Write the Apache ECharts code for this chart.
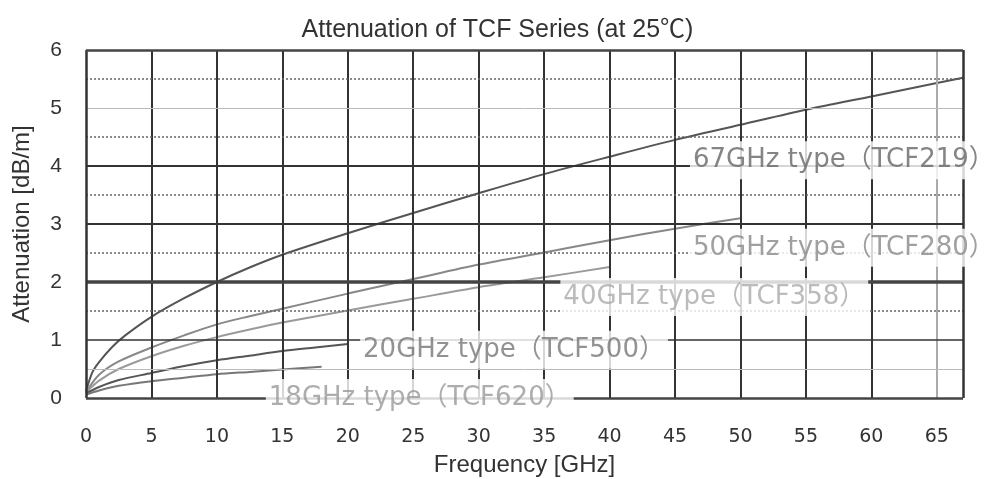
<!DOCTYPE html>
<html><head><meta charset="utf-8">
<script src="https://cdn.jsdelivr.net/npm/echarts@6/dist/echarts.min.js"></script>
<style>html,body{margin:0;padding:0;background:#fff}#c{width:995px;height:479px}</style>
</head><body><div id="c"></div>
<script>
// ---- data ----
const freq67 = [0, 0.5, 1, 2, 3, 5, 7.5, 10, 12.5, 15, 20, 25, 30, 35, 40, 45, 50, 55, 60, 65, 67];
const att67  = [0.12, 0.45, 0.62, 0.88, 1.08, 1.40, 1.72, 2.0, 2.25, 2.47, 2.84, 3.19, 3.53, 3.86, 4.16, 4.45, 4.71, 4.97, 5.2, 5.43, 5.52];
const freq50 = [0, 1, 2.5, 5, 7.5, 10, 12.5, 15, 20, 25, 30, 35, 40, 45, 50];
const att50  = [0.1, 0.4, 0.63, 0.87, 1.08, 1.27, 1.41, 1.54, 1.8, 2.05, 2.3, 2.51, 2.72, 2.92, 3.1];
const freq40 = [0, 1, 2.5, 5, 7.5, 10, 12.5, 15, 20, 25, 30, 35, 40];
const att40  = [0.1, 0.3, 0.5, 0.72, 0.9, 1.05, 1.18, 1.3, 1.51, 1.71, 1.91, 2.08, 2.26];
const freq20 = [0, 1, 2.5, 5, 7.5, 10, 12.5, 15, 17.5, 20];
const att20  = [0.08, 0.19, 0.31, 0.43, 0.55, 0.65, 0.73, 0.81, 0.87, 0.93];
const freq18 = [0, 1, 2.5, 5, 7.5, 10, 12.5, 15, 18];
const att18  = [0.06, 0.13, 0.21, 0.29, 0.35, 0.41, 0.45, 0.49, 0.54];

const seriesNames = ['67GHz type（TCF219）', '50GHz type（TCF280）', '40GHz type（TCF358）', '20GHz type（TCF500）', '18GHz type（TCF620）'];
const xTicks = [0, 5, 10, 15, 20, 25, 30, 35, 40, 45, 50, 55, 60, 65];
const yTicks = [0, 1, 2, 3, 4, 5, 6];

// gridline values
const vDark = [5, 10, 15, 20, 25, 30, 35, 40, 45, 50, 55, 60];
const vGray = [65];
const hDark = [3, 4];
const hThin = [1];
const hThick = [2];
const hLight = [0.5, 5];
const hDotted = [1.5, 2.5, 3.5, 4.5, 5.5];
const xBorders = [0, 67];
const yBorders = [0, 6];

// label anchors (left edge, vertical centre) in data units
const labelAnchors = [[46.1, 4.1], [46.1, 2.59], [36.2, 1.74], [20.9, 0.83], [13.7, 0.0]];

// ---- styles ----
const curveColors = ['#555', '#888', '#9a9a9a', '#555', '#777'];
const labelColors = ['#666', '#888', '#aaa', '#777', '#999'];

const ml = [];
vDark.forEach(v => ml.push({xAxis: v, lineStyle: {color: '#333', width: 2, type: 'solid'}}));
vGray.forEach(v => ml.push({xAxis: v, lineStyle: {color: '#aaa', width: 2, type: 'solid'}}));
hDotted.forEach(v => ml.push({yAxis: v, lineStyle: {color: '#666', width: 1.5, type: [2, 2]}}));
hLight.forEach(v => ml.push({yAxis: v, lineStyle: {color: '#bbb', width: 1, type: 'solid'}}));
hThin.forEach(v => ml.push({yAxis: v, lineStyle: {color: '#333', width: 1.5, type: 'solid'}}));
hDark.forEach(v => ml.push({yAxis: v, lineStyle: {color: '#333', width: 2, type: 'solid'}}));
hThick.forEach(v => ml.push({yAxis: v, lineStyle: {color: '#444', width: 3.5, type: 'solid'}}));
xBorders.forEach(v => ml.push({xAxis: v, lineStyle: {color: '#333', width: 2.5, type: 'solid'}}));
yBorders.forEach(v => ml.push({yAxis: v, lineStyle: {color: '#444', width: 2.5, type: 'solid'}}));

const pairs = (xs, ys) => xs.map((x, i) => [x, ys[i]]);
const curves = [[freq67, att67], [freq50, att50], [freq40, att40], [freq20, att20], [freq18, att18]];

const series = [{
  type: 'line', name: 'grid', data: [[0, 0]], symbol: 'none', lineStyle: {opacity: 0},
  silent: true, z: 1, animation: false,
  markLine: {symbol: ['none', 'none'], silent: true, animation: false, label: {show: false}, data: ml}
}];
curves.forEach((c, i) => series.push({
  type: 'line', name: seriesNames[i], data: pairs(c[0], c[1]), smooth: 0.3, symbol: 'none',
  lineStyle: {color: curveColors[i], width: 2}, z: 3, silent: true, animation: false
}));
series.push({
  type: 'scatter', name: 'labels', z: 10, silent: true, animation: false,
  symbolSize: 1, itemStyle: {color: 'transparent'},
  data: labelAnchors.map((p, i) => ({value: p, label: {color: labelColors[i]}})),
  label: {
    show: true, position: 'right', distance: 0,
    formatter: p => seriesNames[p.dataIndex],
    fontSize: 26, fontFamily: 'DejaVu Sans, Noto Sans CJK JP, sans-serif',
    backgroundColor: '#fff', padding: [4, 3], lineHeight: 30
  }
});

const chart = echarts.init(document.getElementById('c'), null, {renderer: 'canvas'});
chart.setOption({
  backgroundColor: '#fff',
  animation: false,
  title: {
    text: 'Attenuation of TCF Series (at 25℃)', left: 'center', top: 13,
    textStyle: {fontSize: 25, fontWeight: 'normal', color: '#333', fontFamily: 'Liberation Sans, Noto Sans CJK JP, sans-serif'}
  },
  grid: {left: 86, right: 32, top: 50, bottom: 81, containLabel: false, outerBoundsMode: 'none'},
  xAxis: {
    type: 'value', min: 0, max: 67, interval: 5,
    name: 'Frequency [GHz]', nameLocation: 'middle', nameGap: 55,
    nameTextStyle: {fontSize: 24, color: '#333', fontFamily: 'Liberation Sans, sans-serif'},
    axisLine: {show: false}, axisTick: {show: false}, splitLine: {show: false},
    axisLabel: {
      margin: 30, fontSize: 19, color: '#333', fontFamily: 'DejaVu Sans, sans-serif',
      formatter: v => xTicks.indexOf(v) >= 0 ? String(v) : ''
    }
  },
  yAxis: {
    type: 'value', min: 0, max: 6, interval: 1,
    name: 'Attenuation [dB/m]', nameLocation: 'middle', nameGap: 52,
    nameTextStyle: {fontSize: 24, color: '#333', fontFamily: 'Liberation Sans, sans-serif'},
    axisLine: {show: false}, axisTick: {show: false}, splitLine: {show: false},
    axisLabel: {
      margin: 24, fontSize: 21, color: '#333', fontFamily: 'Liberation Sans, sans-serif',
      formatter: v => yTicks.indexOf(v) >= 0 ? String(v) : ''
    }
  },
  series: series
});
</script></body></html>
